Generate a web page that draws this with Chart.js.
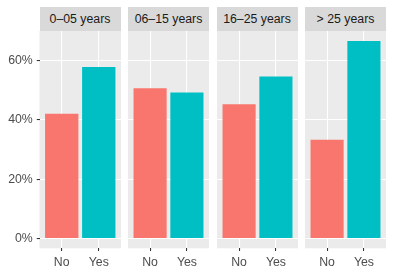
<!DOCTYPE html>
<html>
<head>
<meta charset="utf-8">
<script src="https://cdn.jsdelivr.net/npm/chart.js@4"></script>
<style>
    body { margin: 0; background: #fff; width: 393px; height: 275px; overflow: hidden; position: relative; font-family: "Liberation Sans", Arial, sans-serif; }
    .strip { position: absolute; top: 7px; height: 24px; background: #D9D9D9; color: #1A1A1A; font-size: 12.3px; line-height: 24px; text-align: center; white-space: nowrap; }
    .panel { position: absolute; top: 31px; height: 244px; }
    canvas { display: block; }
</style>
</head>
<body>
<script>
        const facets = ['0\u201305 years', '06\u201315 years', '16\u201325 years', '> 25 years'];
        const categories = ['No', 'Yes'];
        const noValues = [42.1, 50.7, 45.3, 33.3];
        const yesValues = [57.9, 49.3, 54.7, 66.7];
        const majorTicks = [0, 20, 40, 60];
        const minorTicks = [10, 30, 50];
        const tickLabels = ['0%', '20%', '40%', '60%'];
        const barColors = ['#F8766D', '#00BFC4'];

        const panelLeft = [39.5, 128, 216.5, 305];
        const panelWidth = 81;
        const tickFont = { family: '"Liberation Sans", Arial, sans-serif', size: 12.3 };

        const ymax = Math.max(...noValues, ...yesValues);
        const ypad = ymax * 0.05;

        const panelBg = {
            id: 'panelBg',
            beforeDraw(chart) {
                const { ctx, chartArea: a } = chart;
                ctx.save();
                ctx.fillStyle = '#EBEBEB';
                ctx.fillRect(a.left, a.top, a.right - a.left, a.bottom - a.top);
                ctx.restore();
            }
        };

        function noPadding(s) {
            s.paddingTop = 0;
            s.paddingBottom = 0;
            s.paddingLeft = 0;
            s.paddingRight = 0;
        }

        function makePanel(i) {
            const first = i === 0;
            const strip = document.createElement('div');
            strip.className = 'strip';
            strip.style.left = panelLeft[i] + 'px';
            strip.style.width = panelWidth + 'px';
            strip.textContent = facets[i];
            document.body.appendChild(strip);

            const wrap = document.createElement('div');
            wrap.className = 'panel';
            const left = first ? 0 : panelLeft[i];
            const width = first ? Math.ceil(panelLeft[0] + panelWidth) : panelWidth;
            wrap.style.left = left + 'px';
            wrap.style.width = width + 'px';
            const canvas = document.createElement('canvas');
            canvas.width = width;
            canvas.height = 244;
            wrap.appendChild(canvas);
            document.body.appendChild(wrap);

            const isMajor = v => majorTicks.includes(v);

            new Chart(canvas, {
                type: 'bar',
                data: {
                    datasets: [{
                        data: categories.map((c, k) => ({ x: k + 1, y: k === 0 ? noValues[i] : yesValues[i] })),
                        backgroundColor: barColors,
                        borderWidth: 0,
                        barPercentage: 0.9,
                        categoryPercentage: 1
                    }]
                },
                options: {
                    responsive: false,
                    animation: false,
                    layout: { padding: 0 },
                    plugins: { legend: { display: false }, tooltip: { enabled: false } },
                    scales: {
                        x: {
                            type: 'linear',
                            min: 0.4,
                            max: 2.6,
                            offset: false,
                            afterBuildTicks: s => { s.ticks = categories.map((c, k) => ({ value: k + 1 })); },
                            afterFit: s => { s.height = 26.7; noPadding(s); },
                            grid: { offset: false, color: '#FFFFFF', lineWidth: 1.07, tickColor: '#333333', tickLength: 2.75, tickWidth: 1.07 },
                            border: { display: false },
                            ticks: {
                                callback: (v, idx) => categories[idx],
                                color: '#4D4D4D',
                                font: tickFont,
                                padding: 4,
                                maxRotation: 0,
                                autoSkip: false
                            }
                        },
                        y: {
                            min: -ypad,
                            max: ymax + ypad,
                            afterBuildTicks: s => {
                                s.ticks = [...majorTicks, ...minorTicks].sort((a, b) => a - b).map(v => ({ value: v }));
                            },
                            afterFit: s => { s.width = first ? panelLeft[0] : 0; noPadding(s); },
                            grid: {
                                color: '#FFFFFF',
                                lineWidth: ctx => isMajor(ctx.tick.value) ? 1.07 : 0.53,
                                tickColor: ctx => isMajor(ctx.tick.value) ? '#333333' : 'rgba(0,0,0,0)',
                                tickWidth: 1.07,
                                tickLength: 2.75,
                                drawTicks: first
                            },
                            border: { display: false },
                            ticks: {
                                display: first,
                                callback: v => {
                                    const k = majorTicks.indexOf(v);
                                    return k < 0 ? null : tickLabels[k];
                                },
                                color: '#4D4D4D',
                                font: tickFont,
                                padding: 4
                            }
                        }
                    }
                },
                plugins: [panelBg]
            });
        }

        facets.forEach((f, i) => makePanel(i));
</script>
</body>
</html>
